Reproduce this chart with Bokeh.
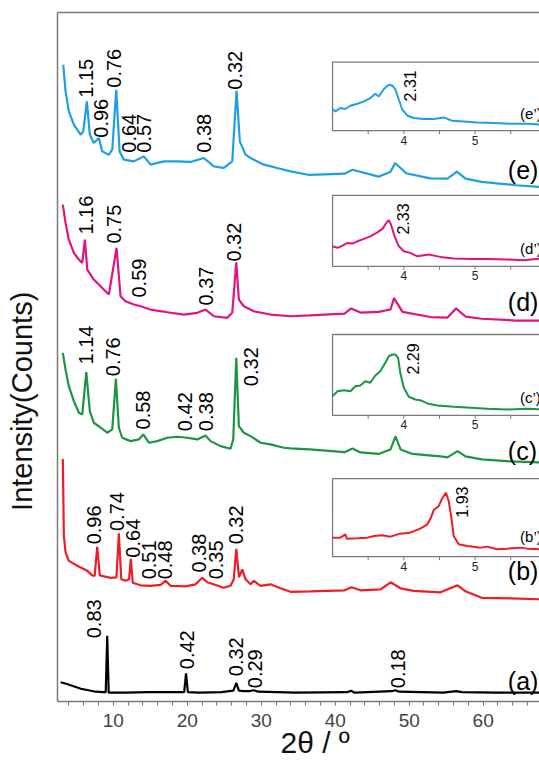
import math
from bokeh.plotting import figure
from bokeh.models import Range1d, SingleIntervalTicker, FixedTicker, LinearAxis
from bokeh.core.properties import value
from bokeh.embed import file_html
from bokeh.resources import INLINE

# ---------------- data (2theta, displayed intensity, arbitrary units incl. stacking) ----------------
trace_a = [(2.89, 24.5), (3.64, 23), (4.64, 20.5), (5.64, 18), (6.64, 16.5), (7.64, 15), (8.64, 14.5), (8.99, 14.5),
           (9.19, 71), (9.39, 14), (10.14, 14), (11.64, 14), (14.64, 14.5), (17.64, 14.5), (19.59, 14.5),
           (19.84, 33.3), (20.09, 14.5), (21.64, 14), (24.64, 14.5), (26.24, 16), (26.64, 23.7), (26.99, 16),
           (27.64, 15.5), (28.34, 15.5), (28.94, 16.5), (29.64, 15), (34.64, 14), (41.64, 14.5), (42.14, 16),
           (42.64, 14), (47.64, 15.5), (48.14, 16.5), (48.64, 15), (54.64, 14), (56.34, 15.5), (57.14, 14.5),
           (61.64, 14), (67.61, 14)]

trace_b = [(3.19, 248), (3.33, 171), (3.56, 154.5), (4.00, 146), (5.14, 141), (6.49, 136), (7.17, 131.5), (7.49, 131),
           (7.84, 160), (8.19, 131.5), (9.64, 129), (10.44, 129.5), (10.76, 173.5), (11.09, 127.5), (11.67, 126),
           (12.14, 127.5), (12.38, 148), (12.64, 124), (13.69, 121.5), (15.04, 121), (16.40, 122), (17.07, 126),
           (17.75, 121), (19.78, 120.5), (21.13, 122.5), (22.03, 129), (22.71, 124.5), (23.56, 122.5), (24.91, 119),
           (25.86, 121), (26.29, 127.5), (26.63, 158), (27.00, 129.5), (27.44, 137.5), (27.88, 127.5), (28.56, 122.5),
           (29.00, 126), (29.91, 121), (31.26, 122.5), (32.61, 118.5), (33.96, 115), (36.67, 115.5), (41.26, 116.5),
           (42.21, 119.5), (43.42, 116.5), (46.13, 117.5), (47.48, 124.5), (48.83, 118.5), (50.59, 116),
           (54.23, 114.5), (56.53, 121.5), (57.61, 115.5), (59.78, 109), (63.69, 108.5), (67.61, 107.5)]

trace_c = [(3.19, 354.2), (3.56, 337.5), (4.00, 320.8), (4.68, 305.8), (5.36, 294.2), (5.82, 292.5), (6.36, 334.8),
           (6.84, 295.8), (7.38, 284.2), (8.29, 279.2), (9.19, 274.2), (9.87, 277.5), (10.36, 328.2), (10.76, 279.2),
           (11.22, 269.2), (12.34, 265.8), (13.46, 267.5), (14.06, 272.5), (14.82, 264.2), (15.95, 265.8),
           (17.30, 269.2), (18.65, 270.2), (20.00, 269.2), (21.36, 267.5), (22.48, 271.5), (23.15, 265.8),
           (24.50, 260.8), (25.86, 258.2), (26.22, 267.5), (26.63, 349.2), (26.98, 280.8), (27.65, 274.2),
           (28.56, 270.8), (29.91, 264.2), (31.26, 262.5), (33.06, 259.2), (33.96, 258.5), (36.53, 257.5),
           (41.26, 254.7), (42.34, 258.5), (43.42, 254.5), (45.86, 253), (47.48, 257.5), (48.15, 270.5),
           (48.83, 257.5), (50.45, 253), (54.23, 250.5), (55.18, 249.5), (56.53, 255.8), (57.61, 250.5),
           (59.78, 247.5), (63.69, 245.5), (67.61, 244.5)]

trace_d = [(3.19, 502.5), (3.56, 484.2), (4.00, 467.5), (4.68, 454.2), (5.36, 447.5), (5.82, 444.2), (6.17, 467.5),
           (6.49, 437.5), (7.38, 427.5), (8.29, 420.8), (9.41, 412.5), (10.45, 459.2), (10.99, 410.8), (11.67, 405.8),
           (12.79, 402.5), (13.69, 400.8), (15.05, 397.5), (17.30, 394.8), (19.55, 392.5), (21.36, 394.2),
           (22.48, 397.5), (23.60, 390.8), (25.41, 389.2), (26.09, 394.2), (26.63, 444.8), (26.98, 407.5),
           (27.65, 400.8), (29.00, 395.8), (31.26, 392.5), (33.96, 390.8), (36.53, 391.7), (41.26, 393.5),
           (42.15, 398.6), (43.42, 394.5), (45.86, 395.2), (47.48, 397.5), (47.95, 408.9), (49.10, 395.2),
           (52.88, 390), (55.18, 389.5), (56.32, 398.6), (57.61, 390.5), (59.78, 388.3), (64.44, 386.5), (67.61, 386.5)]

trace_e = [(3.25, 642.5), (3.56, 615.8), (4.00, 595.8), (4.68, 582.5), (5.59, 572.5), (5.95, 575.8), (6.44, 605.8),
           (6.84, 572.5), (7.38, 564.2), (8.06, 569.2), (8.52, 555.8), (9.41, 552.5), (9.87, 557.5), (10.41, 617.5),
           (10.86, 555.8), (11.44, 547.5), (12.79, 545.8), (14.14, 550.8), (15.05, 542.5), (16.84, 545.8),
           (18.65, 545.8), (20.45, 545.2), (22.25, 549.2), (23.60, 540.8), (24.95, 539.2), (26.09, 545.8),
           (26.67, 616.5), (27.11, 565.8), (27.88, 552.5), (28.56, 549.2), (30.36, 542.5), (32.17, 539.2),
           (33.96, 535.8), (36.53, 532.2), (41.26, 533.5), (42.34, 537.4), (45.86, 530.5), (47.48, 535.5),
           (48.10, 544.2), (49.59, 533.9), (52.83, 528.8), (55.18, 528.5), (56.45, 535.6), (57.61, 528.5),
           (59.78, 525.3), (64.44, 521.9), (67.61, 520.2)]

# d-spacing labels (text, 2theta, y of label start)
peaks_a = [("0.83", 7.42, 68.5), ("0.42", 19.98, 37.5), ("0.32", 26.59, 30.5), ("0.29", 29.15, 18.5), ("0.18", 48.53, 18.5)]
peaks_b = [("0.96", 7.38, 162.5), ("0.74", 10.55, 175.8), ("0.64", 12.68, 149.2), ("0.51", 14.82, 127.5),
           ("0.48", 16.94, 127.5), ("0.38", 21.57, 134.2), ("0.35", 23.83, 127.5), ("0.32", 26.53, 162.5)]
peaks_c = [("1.14", 6.26, 342.5), ("0.76", 9.98, 330.8), ("0.58", 14.03, 277.5), ("0.42", 19.64, 275.8),
           ("0.38", 22.48, 275.8), ("0.32", 28.67, 320.8)]
peaks_d = [("1.16", 6.26, 472.5), ("0.75", 10.05, 463.5), ("0.59", 13.49, 409.5), ("0.37", 22.48, 401.5),
           ("0.32", 26.33, 445.5)]
peaks_e = [("1.15", 6.26, 609.5), ("0.96", 8.29, 569.5), ("0.76", 10.11, 619.5), ("0.64", 12.14, 554.5),
           ("0.57", 14.17, 554.5), ("0.38", 22.21, 554.5), ("0.32", 26.40, 617.5)]

sample_names = ["(a)", "(b)", "(c)", "(d)", "(e)"]
sample_label_y = [25.5, 135.5, 255.5, 405.5, 537.5]

x_title = "2θ / º"
y_title = "Intensity(Counts)"

# insets: low-angle region (2theta 3..), intensity arbitrary
inset_b = [(3.0, 19), (3.11, 19), (3.18, 22.3), (3.20, 18), (3.35, 18.3), (3.49, 19), (3.58, 20.6), (3.70, 21.3),
           (3.81, 20), (3.95, 23), (4.09, 24), (4.23, 28), (4.33, 32.3), (4.37, 37.3), (4.42, 46.6), (4.49, 50.6),
           (4.53, 57.3), (4.59, 64), (4.63, 55.6), (4.67, 37.3), (4.70, 20.6), (4.77, 12.3), (4.89, 10.6),
           (5.08, 9), (5.17, 10), (5.31, 7.3), (5.45, 8), (5.64, 9), (5.73, 8), (5.95, 7.3)]
inset_c = [(3.0, 19.3), (3.07, 24.3), (3.16, 25.3), (3.25, 24.3), (3.32, 29.3), (3.39, 30), (3.46, 34.3),
           (3.53, 32.7), (3.60, 40), (3.67, 44.3), (3.74, 52.7), (3.79, 59.3), (3.84, 61), (3.88, 61), (3.92, 57.7),
           (3.95, 42.7), (4.00, 27.7), (4.07, 18.7), (4.16, 16), (4.23, 15.3), (4.33, 12), (4.47, 10), (4.70, 8.7),
           (4.94, 7.7), (5.17, 6.7), (5.45, 6), (5.73, 6.7), (5.95, 6)]
inset_d = [(3.0, 20), (3.07, 18.4), (3.14, 20.7), (3.21, 23.4), (3.28, 22.7), (3.35, 25), (3.44, 27.4), (3.53, 30),
           (3.63, 34), (3.70, 37.4), (3.76, 44), (3.79, 46), (3.82, 41.7), (3.87, 30), (3.93, 20), (4.00, 15),
           (4.09, 13.4), (4.19, 10), (4.35, 11.7), (4.51, 9.4), (4.70, 7.7), (4.94, 7.4), (5.17, 7.4), (5.45, 6.7),
           (5.68, 6), (5.95, 8)]
inset_e = [(3.0, 21.7), (3.04, 19.3), (3.11, 22.7), (3.18, 21.7), (3.25, 25), (3.35, 27), (3.44, 29.3), (3.53, 32.7),
           (3.60, 37), (3.65, 34.3), (3.72, 41.7), (3.79, 46), (3.84, 45), (3.88, 41.7), (3.93, 31), (3.98, 21),
           (4.05, 15), (4.14, 12.7), (4.28, 11.7), (4.42, 11.7), (4.56, 13.3), (4.68, 10), (4.84, 9.3), (5.03, 8.3),
           (5.26, 7.7), (5.50, 7), (5.73, 7), (5.95, 6)]
inset_peaks = {"b": ("1.93", 4.81, 39), "c": ("2.29", 4.13, 41), "d": ("2.33", 3.99, 31.7), "e": ("2.31", 4.08, 29.3)}
inset_names = {"b": "(b’)", "c": "(c’)", "d": "(d’)", "e": "(e’)"}
inset_name_y = {"b": 20.6, "c": 18, "d": 17.7, "e": 17}
inset_ticks = [3.5, 4.0, 4.5, 5.0, 5.5]
inset_tick_labels = ["4", "5"]

# ---------------- styling / layout ----------------
colors = {"a": "#000000", "b": "#EE1C24", "c": "#1B9640", "d": "#E2127E", "e": "#1E9FE3"}
# inset placement in main coordinates: (bottom, height)
inset_box = {"e": (576.5, 68.7), "d": (440.8, 71.0), "c": (291.5, 81.0), "b": (150.2, 78.0)}
INSET_X0, INSET_X1 = 39.64, 78.18     # main 2theta spanned by inset source 3..7
NBSP = "\u00a0"

AXFONT = "Liberation Sans"
FONT = value("Liberation Sans")
FRAME = "#7a7a7a"

p = figure(width=539, height=761, x_range=Range1d(2.47, 67.61), y_range=Range1d(5.2, 694.8),
           output_backend="svg", toolbar_location=None,
           min_border_left=57, min_border_right=0, min_border_top=12, min_border_bottom=58)
p.outline_line_color = None
p.xgrid.visible = False
p.ygrid.visible = False
p.background_fill_color = "white"
p.border_fill_color = "white"

xa = p.xaxis[0]
xa.ticker = SingleIntervalTicker(interval=10, num_minor_ticks=5)
xa.axis_label = NBSP * 4 + x_title
xa.axis_label_text_font = AXFONT
xa.axis_label_text_font_size = "30px"
xa.axis_label_text_font_style = "normal"
xa.axis_label_text_color = "#111111"
xa.axis_label_standoff = -4
xa.major_label_text_font = AXFONT
xa.major_label_text_font_size = "19px"
xa.major_label_standoff = 8
xa.major_tick_in = 0
xa.major_tick_out = 4
xa.minor_tick_in = 0
xa.minor_tick_out = 4
xa.axis_line_color = FRAME
xa.axis_line_width = 1.5
xa.major_tick_line_color = FRAME
xa.minor_tick_line_color = FRAME

ya = p.yaxis[0]
ya.ticker = FixedTicker(ticks=[])
ya.axis_label = y_title + NBSP * 11
ya.axis_label_text_font = AXFONT
ya.axis_label_text_font_size = "29px"
ya.axis_label_text_font_style = "normal"
ya.axis_label_text_color = "#111111"
ya.axis_label_standoff = 20
ya.major_tick_out = 0
ya.minor_tick_out = 0
ya.axis_line_color = FRAME
ya.axis_line_width = 1.5

top = LinearAxis(ticker=FixedTicker(ticks=[]), major_tick_out=0, minor_tick_out=0,
                 major_label_text_font_size="0px", axis_line_color=FRAME, axis_line_width=1.5)
p.add_layout(top, "above")

traces = {"a": trace_a, "b": trace_b, "c": trace_c, "d": trace_d, "e": trace_e}
peaks = {"a": peaks_a, "b": peaks_b, "c": peaks_c, "d": peaks_d, "e": peaks_e}

for k in ["a", "b", "c", "d", "e"]:
    xs = [t[0] for t in traces[k]]
    ys = [t[1] for t in traces[k]]
    p.line(xs, ys, line_color=colors[k], line_width=2.2)

for k in ["a", "b", "c", "d", "e"]:
    pk = peaks[k]
    p.text(x=[q[1] for q in pk], y=[q[2] for q in pk], text=[q[0] for q in pk], angle=math.pi / 2,
           text_align="left", text_baseline="middle", text_font=FONT, text_font_size="20px",
           text_color="black")

p.text(x=[63.33] * 5, y=sample_label_y, text=sample_names, text_align="left", text_baseline="middle",
       text_font=FONT, text_font_size="25px", text_color="black")

insets = {"b": inset_b, "c": inset_c, "d": inset_d, "e": inset_e}
for k in ["b", "c", "d", "e"]:
    yb, h = inset_box[k]
    sub = p.subplot(x_source=Range1d(3.0, 7.0), y_source=Range1d(0, h),
                    x_target=Range1d(INSET_X0, INSET_X1), y_target=Range1d(yb, yb + h))
    sub.quad(left=[3.0], right=[7.0], bottom=[0], top=[h], fill_color="white",
             line_color=FRAME, line_width=1.3)
    sub.segment(x0=inset_ticks, y0=[0] * len(inset_ticks), x1=inset_ticks, y1=[-3.5] * len(inset_ticks),
                line_color=FRAME, line_width=1)
    sub.text(x=[4.0, 5.0], y=[-5, -5], text=inset_tick_labels, text_align="center", text_baseline="top",
             text_font=FONT, text_font_size="12px", text_color="#222222")
    xs = [t[0] for t in insets[k]]
    ys = [t[1] for t in insets[k]]
    sub.line(xs, ys, line_color=colors[k], line_width=2)
    lab, lx, ly = inset_peaks[k]
    sub.text(x=[lx], y=[ly], text=[lab], angle=math.pi / 2, text_align="left", text_baseline="middle",
             text_font=FONT, text_font_size="16px", text_color="black")
    sub.text(x=[5.63], y=[inset_name_y[k]], text=[inset_names[k]], text_align="left", text_baseline="middle",
             text_font=FONT, text_font_size="15px", text_color="black")

open("out.html", "w").write(file_html(p, INLINE))
